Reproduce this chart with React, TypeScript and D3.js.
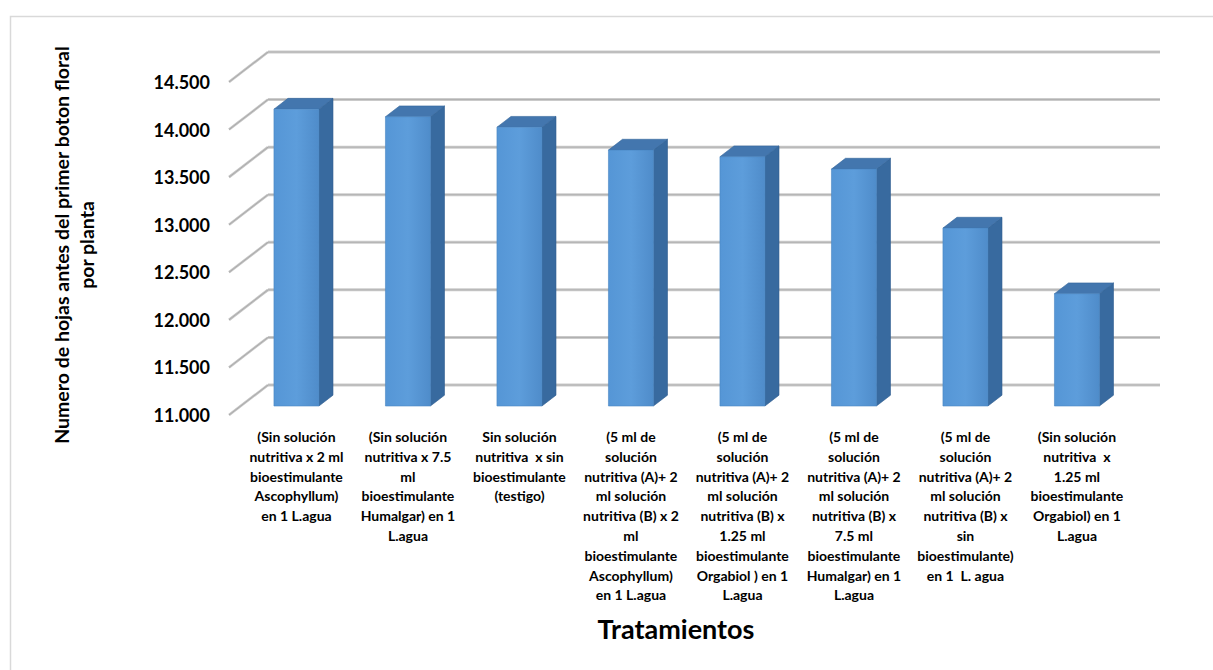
import React from "react";
import * as d3 from "d3";

// Tratamientos (one array of wrapped lines per category)
const categoryLines: string[][] = [
  ["(Sin solución", "nutritiva x 2 ml", "bioestimulante", "Ascophyllum)", "en 1 L.agua"],
  ["(Sin solución", "nutritiva x 7.5", "ml", "bioestimulante", "Humalgar) en 1", "L.agua"],
  ["Sin solución", "nutritiva  x sin", "bioestimulante", "(testigo)"],
  ["(5 ml de", "solución", "nutritiva (A)+ 2", "ml solución", "nutritiva (B) x 2", "ml", "bioestimulante", "Ascophyllum)", "en 1 L.agua"],
  ["(5 ml de", "solución", "nutritiva (A)+ 2", "ml solución", "nutritiva (B) x", "1.25 ml", "bioestimulante", "Orgabiol ) en 1", "L.agua"],
  ["(5 ml de", "solución", "nutritiva (A)+ 2", "ml solución", "nutritiva (B) x", "7.5 ml", "bioestimulante", "Humalgar) en 1", "L.agua"],
  ["(5 ml de", "solución", "nutritiva (A)+ 2", "ml solución", "nutritiva (B) x", "sin", "bioestimulante)", "en 1  L. agua"],
  ["(Sin solución", "nutritiva  x", "1.25 ml", "bioestimulante", "Orgabiol) en 1", "L.agua"],
];

// Numero de hojas antes del primer boton floral por planta
const values: number[] = [14.12, 14.04, 13.93, 13.69, 13.62, 13.49, 12.87, 12.18];

const yTicks: number[] = [11, 11.5, 12, 12.5, 13, 13.5, 14, 14.5];
const yTickLabels: string[] = ["11.000", "11.500", "12.000", "12.500", "13.000", "13.500", "14.000", "14.500"];

const yTitleLines: string[] = ["Numero de hojas antes del primer boton floral", "por planta"];
const xTitle = "Tratamientos";

const W = 1213;
const H = 670;
const FONT = "Lato, 'Open Sans', sans-serif";

// oblique 3D projection: depth vector from the front plane to the back wall
const DX = 39;
const DY = -30;
const Z_FRONT = 0.3; // bar front face depth
const Z_DEPTH = 0.36; // bar thickness in depth units
const BAR_W = 45;

export default function App() {
  const keys = categoryLines.map((_, i) => `c${i}`);
  const x = d3.scaleBand<string>().domain(keys).range([229, 1121]);
  const y = d3.scaleLinear().domain([11, 14.5]).range([415, 82]);

  const proj = (px: number, v: number, z: number): [number, number] => [px + z * DX, y(v) + z * DY];
  const pts = (arr: [number, number][]) => arr.map((p) => p.join(",")).join(" ");

  const backX0 = 229 + DX;
  const backX1 = 1121 + DX;

  return (
    <svg width={W} height={H} style={{ display: "block", position: "absolute", left: 0, top: 0 }}>
      <defs>
        <linearGradient id="frontGrad" x1="0" x2="1" y1="0" y2="0">
          <stop offset="0" stopColor="#5596d6" />
          <stop offset="0.5" stopColor="#5d9ddb" />
          <stop offset="1" stopColor="#4f8cca" />
        </linearGradient>
      </defs>
      <rect x={0} y={0} width={W} height={H} fill="#ffffff" />
      <rect x={10.5} y={16.5} width={1215} height={670} fill="none" stroke="#d9d9d9" strokeWidth={1.5} />

      {/* side wall and back wall gridlines */}
      {yTicks.map((t) => {
        const [fx, fy] = proj(229, t, 0);
        const [bx, by] = proj(229, t, 1);
        return (
          <g key={`g${t}`}>
            <line x1={fx} y1={fy} x2={bx} y2={by} stroke="#c4c4c4" strokeWidth={2.6} />
            <line x1={fx} y1={fy} x2={bx} y2={by} stroke="#a8a8a8" strokeWidth={0.9} />
            <line x1={backX0} y1={by} x2={backX1} y2={by} stroke="#cccccc" strokeWidth={3} />
            <line x1={backX0} y1={by} x2={backX1} y2={by} stroke="#b0b0b0" strokeWidth={1} />
          </g>
        );
      })}

      {/* bars */}
      {values.map((v, i) => {
        const cx = (x(keys[i]) as number) + x.bandwidth() / 2;
        const l = cx - BAR_W / 2;
        const r = cx + BAR_W / 2;
        const z0 = Z_FRONT;
        const z1 = Z_FRONT + Z_DEPTH;
        const front: [number, number][] = [proj(l, 11, z0), proj(r, 11, z0), proj(r, v, z0), proj(l, v, z0)];
        const side: [number, number][] = [proj(r, 11, z0), proj(r, 11, z1), proj(r, v, z1), proj(r, v, z0)];
        const top: [number, number][] = [proj(l, v, z0), proj(r, v, z0), proj(r, v, z1), proj(l, v, z1)];
        return (
          <g key={`b${i}`}>
            <polygon points={pts(side)} fill="#386a9f" stroke="#2f5d8f" strokeWidth={0.6} />
            <polygon points={pts(top)} fill="#4376ae" stroke="#33649a" strokeWidth={0.6} />
            <polygon points={pts(front)} fill="url(#frontGrad)" stroke="#4a86c2" strokeWidth={0.6} />
          </g>
        );
      })}

      {/* y tick labels */}
      {yTicks.map((t, i) => (
        <text
          key={`t${t}`}
          x={210}
          y={y(t)}
          textAnchor="end"
          dominantBaseline="central"
          fontFamily={FONT}
          fontWeight="bold"
          fontSize={18}
          fill="#000"
        >
          {yTickLabels[i]}
        </text>
      ))}

      {/* category labels */}
      {categoryLines.map((lines, i) => {
        const cx = (x(keys[i]) as number) + x.bandwidth() / 2 + Z_FRONT * DX;
        return (
          <text
            key={`c${i}`}
            textAnchor="middle"
            fontFamily={FONT}
            fontWeight="bold"
            fontSize={14}
            fill="#000"
            style={{ whiteSpace: "pre" }}
          >
            {lines.map((ln, j) => (
              <tspan key={j} x={cx} y={442 + j * 19.8}>
                {ln}
              </tspan>
            ))}
          </text>
        );
      })}

      {/* axis titles */}
      <text
        transform="translate(69,245) rotate(-90)"
        textAnchor="middle"
        fontFamily={FONT}
        fontWeight="bold"
        fontSize={19.5}
        fill="#000"
      >
        {yTitleLines.map((ln, j) => (
          <tspan key={j} x={0} y={j * 25}>
            {ln}
          </tspan>
        ))}
      </text>
      <text x={676} y={639} textAnchor="middle" fontFamily={FONT} fontWeight="bold" fontSize={27} fill="#000">
        {xTitle}
      </text>
    </svg>
  );
}
